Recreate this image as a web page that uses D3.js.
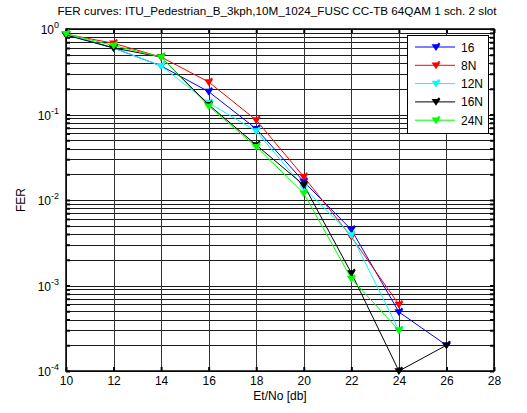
<!DOCTYPE html>
<html><head><meta charset="utf-8">
<script src="https://cdn.jsdelivr.net/npm/d3@7"></script>
<style>body{margin:0;background:#fff}svg{display:block}text{font-family:"Liberation Sans",Arial,sans-serif}</style>
</head><body><svg id="c" width="527" height="413"></svg>
<script>
const snr = [10,12,14,16,18,20,22,24,26];
const seriesNames = ["16","8N","12N","16N","24N"];
const seriesColors = ["#0000ff","#ff0000","#00ffff","#000000","#00ff00"];
const fer16  = [0.87,0.60,0.37,0.185,0.068,0.0164,0.0045,0.00049,0.0002];
const fer8N  = [0.87,0.68,0.47,0.24,0.086,0.0187,0.0037,0.0006];
const fer12N = [0.87,0.60,0.37,0.137,0.064,0.014,0.0039,0.0003];
const fer16N = [0.85,0.60,0.47,0.13,0.044,0.015,0.0014,0.0001,0.0002];
const fer24N = [0.88,0.64,0.47,0.125,0.042,0.012,0.0012,0.0003];
const xTicks = [10,12,14,16,18,20,22,24,26,28];
const yExp = [0,-1,-2,-3,-4];
const titleText = "FER curves: ITU_Pedestrian_B_3kph,10M_1024_FUSC CC-TB 64QAM 1 sch. 2 slot";

const allSeries = [fer16,fer8N,fer12N,fer16N,fer24N];
const svg = d3.select("#c");
const L=66,R=494,T=29,B=371;
const x = d3.scaleLinear().domain([10,28]).range([L,R]);
const y = d3.scaleLog().domain([1e-4,1]).range([B,T]);

// grid
const minor = [];
for (let e=-4;e<0;e++) for (let m=1;m<10;m++) minor.push(m*Math.pow(10,e));
minor.push(1);
const g = svg.append("g");
g.selectAll(".hg").data(minor).enter().append("line")
 .attr("x1",L).attr("x2",R).attr("y1",d=>Math.round(y(d))+0.5).attr("y2",d=>Math.round(y(d))+0.5)
 .attr("stroke","#1a1a1a").attr("stroke-width",1);
g.selectAll(".vg").data(xTicks).enter().append("line")
 .attr("x1",d=>Math.round(x(d))+0.5).attr("x2",d=>Math.round(x(d))+0.5).attr("y1",T).attr("y2",B)
 .attr("stroke","#333").attr("stroke-width",1);

// axes ticks (inward)
const xa = d3.axisBottom(x).tickValues(xTicks).tickSize(-4).tickPadding(5).tickFormat(d3.format("d"));
const xb = svg.append("g").attr("transform",`translate(0,${B})`).call(xa);
svg.append("g").attr("transform",`translate(0,${T})`).call(d3.axisTop(x).tickValues(xTicks).tickSize(-4).tickFormat(""));
svg.append("g").attr("transform",`translate(${L},0)`).call(d3.axisLeft(y).tickValues(minor).tickSize(-4).tickFormat(""));
svg.append("g").attr("transform",`translate(${R},0)`).call(d3.axisRight(y).tickValues(minor).tickSize(-4).tickFormat(""));
svg.selectAll(".domain").remove();
svg.selectAll(".tick line").attr("stroke","#000").attr("stroke-width",2);
xb.selectAll("text").attr("font-size",12).attr("fill","#000").attr("font-family","Liberation Sans, Arial, sans-serif");

// y labels
const yl = svg.append("g");
yExp.forEach(e=>{
  const t = yl.append("text").attr("x",L-7).attr("y",y(Math.pow(10,e))+5).attr("text-anchor","end")
    .attr("font-size",12).attr("fill","#000");
  t.append("tspan").text("10");
  t.append("tspan").attr("dy",-6).attr("font-size",9).text(String(e));
});
// frame
svg.append("rect").attr("x",L).attr("y",T).attr("width",R-L).attr("height",B-T)
 .attr("fill","none").attr("stroke","#000").attr("stroke-width",1.5);

// lines
const line = d3.line().x((d,i)=>x(snr[i])).y(d=>y(d));
const marker = "M-3,-2L3,-2L0,2.5Z M1.5,-2L3.5,-4";
allSeries.forEach((s,k)=>{
  const gg = svg.append("g");
  gg.append("path").attr("d",line(s)).attr("fill","none").attr("stroke",seriesColors[k]).attr("stroke-width",1);
  gg.selectAll("path.m").data(s).enter().append("path").attr("class","m")
    .attr("d",marker).attr("transform",(d,i)=>`translate(${x(snr[i])},${y(d)})`)
    .attr("fill",seriesColors[k]).attr("stroke",seriesColors[k]).attr("stroke-width",1.6);
});

// labels
svg.append("text").attr("x",277).attr("y",15).attr("text-anchor","middle").attr("font-size",11.7).attr("fill","#000").text(titleText);
svg.append("text").attr("x",280).attr("y",400).attr("text-anchor","middle").attr("font-size",12).attr("fill","#000").text("Et/No [db]");
svg.append("text").attr("transform","translate(25,200) rotate(-90)").attr("text-anchor","middle").attr("font-size",12).attr("fill","#000").text("FER");

// legend
const lg = svg.append("g");
lg.append("rect").attr("x",407.5).attr("y",35.5).attr("width",81).attr("height",98).attr("fill","#fff").attr("stroke","#000").attr("stroke-width",1);
seriesNames.forEach((n,k)=>{
  const yy = 47 + k*18.3;
  lg.append("line").attr("x1",415).attr("x2",455).attr("y1",yy).attr("y2",yy).attr("stroke",seriesColors[k]).attr("stroke-width",1);
  lg.append("path").attr("d",marker).attr("transform",`translate(436,${yy})`).attr("fill",seriesColors[k]).attr("stroke",seriesColors[k]).attr("stroke-width",1.6);
  lg.append("text").attr("x",461).attr("y",yy+4.5).attr("font-size",12).attr("fill","#000").text(n);
});
</script></body></html>
